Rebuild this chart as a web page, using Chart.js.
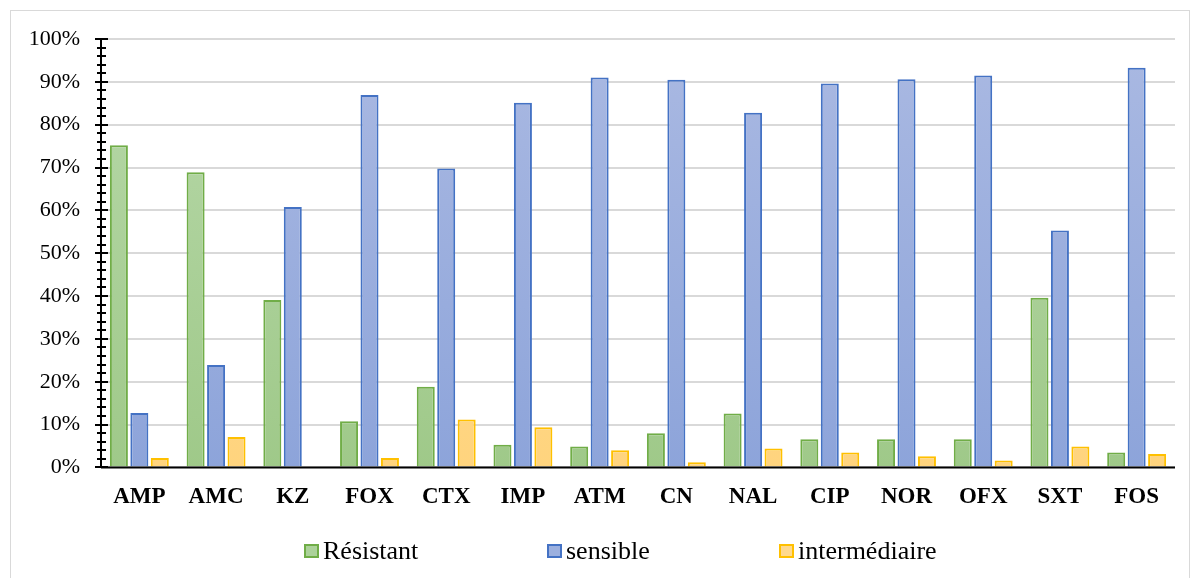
<!DOCTYPE html>
<html>
<head>
<meta charset="utf-8">
<script src="https://cdn.jsdelivr.net/npm/chart.js@4.4.1/dist/chart.umd.min.js"></script>
<style>
  html, body { margin: 0; padding: 0; background: #fff; width: 1195px; height: 578px; overflow: hidden; }
  #frame { position: absolute; left: 10px; top: 10px; width: 1180px; height: 570px; border: 1px solid #d9d9d9; box-sizing: border-box; }
  #wrap { position: absolute; left: 0; top: 0; width: 1195px; height: 578px; }
  .lg { position: absolute; top: 536px; font-family: "Liberation Serif", "Times New Roman", serif; font-size: 26px; color: #000; line-height: 30px; white-space: nowrap; }
  .lg i { display: inline-block; width: 15px; height: 14px; box-sizing: border-box; border: 2px solid; vertical-align: middle; margin-right: 4px; position: relative; top: -2px; }
</style>
</head>
<body>
<div id="frame"></div>
<div id="wrap"><canvas id="c" width="1195" height="578"></canvas></div>
<div class="lg" style="left:304px"><i style="background:#acd29a;border-color:#70ad47"></i>Résistant</div>
<div class="lg" style="left:547px"><i style="background:#9cb0df;border-color:#4472c4"></i>sensible</div>
<div class="lg" style="left:779px"><i style="background:#ffd98e;border-color:#ffc000"></i>intermédiaire</div>
<script>
const categories = ["AMP","AMC","KZ","FOX","CTX","IMP","ATM","CN","NAL","CIP","NOR","OFX","SXT","FOS"];
const resistant    = [75.2, 68.9, 39.1, 10.8, 18.8, 5.3, 4.9, 8.0, 12.6, 6.6, 6.6, 6.6, 39.6, 3.5];
const sensible     = [12.7, 23.9, 60.8, 86.9, 69.8, 85.1, 91.0, 90.5, 82.8, 89.6, 90.6, 91.5, 55.3, 93.3];
const intermediaire= [2.2, 7.1, 0, 2.2, 11.2, 9.4, 4.0, 1.2, 4.4, 3.5, 2.6, 1.6, 4.9, 3.1];
const seriesNames = ["Résistant", "sensible", "intermédiaire"];
const yTicks = [0,10,20,30,40,50,60,70,80,90,100];

function grad(top, bottom, solid) {
  return function(ctx) {
    const ch = ctx.chart; const a = ch.chartArea;
    if (!a) return solid;
    const g = ch.ctx.createLinearGradient(0, a.top, 0, a.bottom);
    g.addColorStop(0, top); g.addColorStop(1, bottom);
    return g;
  };
}

const axisPlugin = {
  id: 'axisPlugin',
  afterDatasetsDraw(chart) {
    const ctx = chart.ctx, a = chart.chartArea, y = chart.scales.y;
    ctx.save();
    ctx.strokeStyle = '#000';
    ctx.lineWidth = 2;
    ctx.beginPath();
    ctx.moveTo(a.left, a.bottom); ctx.lineTo(a.right, a.bottom);
    ctx.moveTo(a.left, y.getPixelForValue(100)); ctx.lineTo(a.left, a.bottom);
    for (let v = 0; v <= 100; v += 2) {
      const py = Math.round(y.getPixelForValue(v));
      if (v % 10 === 0) { ctx.moveTo(a.left - 6, py); ctx.lineTo(a.left + 7, py); }
      else { ctx.moveTo(a.left - 4, py); ctx.lineTo(a.left + 5, py); }
    }
    ctx.stroke();
    ctx.restore();
  }
};

new Chart(document.getElementById('c'), {
  type: 'bar',
  data: {
    labels: categories,
    datasets: [
      { label: seriesNames[0], data: resistant, backgroundColor: grad('#b7d8a9', '#9fc989', '#acd29a'), borderColor: '#70ad47', borderWidth: 2 },
      { label: seriesNames[1], data: sensible, backgroundColor: grad('#aab9e2', '#8da4da', '#9cb0df'), borderColor: '#4472c4', borderWidth: 2 },
      { label: seriesNames[2], data: intermediaire, backgroundColor: grad('#ffdc97', '#ffd47e', '#ffd98e'), borderColor: '#ffc000', borderWidth: 2 }
    ]
  },
  options: {
    responsive: false,
    animation: false,
    devicePixelRatio: 1,
    layout: { padding: { left: 0, right: 20, top: 39, bottom: 59 } },
    datasets: { bar: { categoryPercentage: 0.8, barPercentage: 0.88 } },
    plugins: { legend: { display: false }, tooltip: { enabled: false } },
    scales: {
      x: {
        grid: { display: false },
        border: { display: false },
        ticks: { color: '#000', padding: 8, font: { family: '"Liberation Serif", "Times New Roman", serif', size: 23, weight: 'bold' } }
      },
      y: {
        min: 0, max: 100,
        afterFit(s) { s.width = 101; },
        afterBuildTicks(s) { s.ticks = yTicks.map(v => ({ value: v })); },
        grid: { color: '#d9d9d9', lineWidth: 2, drawTicks: false },
        border: { display: false },
        ticks: { color: '#000', padding: 21, callback: v => v + '%', font: { family: '"Liberation Serif", "Times New Roman", serif', size: 22 } }
      }
    }
  },
  plugins: [axisPlugin]
});
</script>
</body>
</html>
